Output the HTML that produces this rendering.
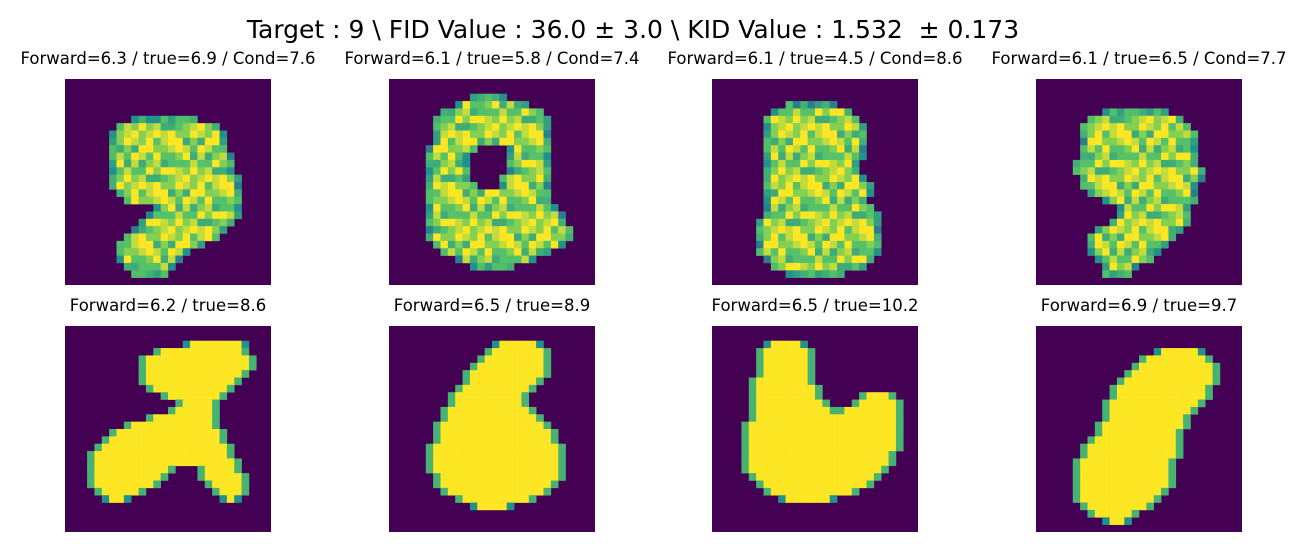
<!DOCTYPE html>
<html><head><meta charset="utf-8"><style>
body{margin:0;background:#fff;}
svg{display:block;font-family:"DejaVu Sans","Liberation Sans",sans-serif;}
</style></head><body>
<svg id="fig" width="1306" height="552" viewBox="0 0 1306 552" xmlns="http://www.w3.org/2000/svg">
<text x="633" y="38" font-size="25" text-anchor="middle" fill="#000" style="white-space:pre" xml:space="preserve">Target : 9 \ FID Value : 36.0 ± 3.0 \ KID Value : 1.532  ± 0.173</text>
<g id="panels"></g>
</svg>
<script>
const titles = [
 "Forward=6.3 / true=6.9 / Cond=7.6","Forward=6.1 / true=5.8 / Cond=7.4",
 "Forward=6.1 / true=4.5 / Cond=8.6","Forward=6.1 / true=6.5 / Cond=7.7",
 "Forward=6.2 / true=8.6","Forward=6.5 / true=8.9","Forward=6.5 / true=10.2","Forward=6.9 / true=9.7"];
const noisy = [true,true,true,true,false,false,false,false];
const texture = "9786958796987569789687958697986759789689758697968759786978596";
const img1 = {5:[[9,17]],6:[[7,20]],7:[[6,21]],8:[[6,21]],9:[[6,21]],10:[[6,22]],11:[[6,22]],12:[[6,22]],13:[[6,23]],14:[[6,23]],15:[[7,23]],16:[[8,23]],17:[[12,23]],18:[[11,23]],19:[[10,22]],20:[[9,21]],21:[[8,20]],22:[[7,18]],23:[[7,16]],24:[[7,15]],25:[[8,14]],26:[[9,13]]};
const img2 = {2:[[11,15]],3:[[9,18]],4:[[7,20]],5:[[6,21]],6:[[6,21]],7:[[6,21]],8:[[6,21]],9:[[5,11],[16,21]],10:[[5,10],[16,21]],11:[[5,10],[16,21]],12:[[5,10],[16,21]],13:[[5,10],[15,21]],14:[[5,11],[15,21]],15:[[5,21]],16:[[5,21]],17:[[5,22]],18:[[5,23]],19:[[5,23]],20:[[5,24]],21:[[5,24]],22:[[6,23]],23:[[7,21]],24:[[9,19]],25:[[11,16]]};
const img3 = {3:[[10,16]],4:[[8,18]],5:[[7,19]],6:[[7,20]],7:[[7,20]],8:[[7,20]],9:[[7,20]],10:[[7,20]],11:[[7,19]],12:[[7,19]],13:[[7,20]],14:[[7,21]],15:[[7,21]],16:[[7,20]],17:[[7,21]],18:[[7,22]],19:[[6,22]],20:[[6,22]],21:[[6,22]],22:[[6,22]],23:[[6,22]],24:[[7,21]],25:[[8,20]],26:[[10,17]]};
const img4 = {4:[[9,17]],5:[[7,19]],6:[[6,20]],7:[[6,21]],8:[[6,21]],9:[[6,21]],10:[[6,21]],11:[[5,21]],12:[[5,22]],13:[[6,22]],14:[[6,21]],15:[[7,21]],16:[[9,21]],17:[[11,20]],18:[[11,20]],19:[[10,20]],20:[[8,19]],21:[[7,18]],22:[[7,17]],23:[[7,16]],24:[[8,15]],25:[[9,13]],26:[[9,12]]};
const img5 = {2:[[16,24]],3:[[12,24]],4:[[10,25]],5:[[10,25]],6:[[10,24]],7:[[10,23]],8:[[11,22]],9:[[13,21]],10:[[15,20]],11:[[14,20]],12:[[11,20]],13:[[8,20]],14:[[6,21]],15:[[5,21]],16:[[4,22]],17:[[3,22]],18:[[3,23]],19:[[3,14],[18,23]],20:[[3,13],[18,24]],21:[[3,12],[19,24]],22:[[4,10],[20,24]],23:[[5,8],[21,23]]};
const img6 = {2:[[14,20]],3:[[13,21]],4:[[12,21]],5:[[11,21]],6:[[10,21]],7:[[10,20]],8:[[9,19]],9:[[8,18]],10:[[8,18]],11:[[7,19]],12:[[7,20]],13:[[6,21]],14:[[6,22]],15:[[6,22]],16:[[5,23]],17:[[5,23]],18:[[5,23]],19:[[5,23]],20:[[6,23]],21:[[6,22]],22:[[7,21]],23:[[9,19]],24:[[11,16]]};
const img7 = {2:[[7,12]],3:[[6,13]],4:[[6,13]],5:[[6,13]],6:[[6,13]],7:[[5,13]],8:[[5,14]],9:[[5,14],[20,24]],10:[[5,15],[19,25]],11:[[5,16],[17,25]],12:[[5,25]],13:[[4,25]],14:[[4,25]],15:[[4,25]],16:[[4,25]],17:[[4,24]],18:[[4,24]],19:[[4,23]],20:[[5,22]],21:[[6,21]],22:[[7,19]],23:[[9,16]]};
const img8 = {3:[[16,22]],4:[[14,23]],5:[[13,24]],6:[[12,24]],7:[[11,24]],8:[[10,23]],9:[[10,23]],10:[[9,22]],11:[[9,21]],12:[[9,20]],13:[[8,20]],14:[[8,19]],15:[[7,19]],16:[[6,19]],17:[[6,19]],18:[[5,18]],19:[[5,18]],20:[[5,18]],21:[[5,18]],22:[[5,17]],23:[[5,16]],24:[[6,15]],25:[[7,13]],26:[[9,12]]};
const images = [img1,img2,img3,img4,img5,img6,img7,img8];

const NS="http://www.w3.org/2000/svg";
const panelX=[65,389,712,1036], panelY=[79,326], S=206, N=28, cs=S/N;
function viridis(t){
  const st=[[0,[68,1,84]],[0.25,[59,82,139]],[0.5,[33,145,140]],[0.75,[94,201,98]],[1,[253,231,37]]];
  t=Math.max(0,Math.min(1,t));
  for(let i=1;i<st.length;i++){ if(t<=st[i][0]){const a=st[i-1],b=st[i];const f=(t-a[0])/(b[0]-a[0]);
    const c=a[1].map((v,k)=>Math.round(v+(b[1][k]-v)*f)); return `rgb(${c[0]},${c[1]},${c[2]})`;}}
  return "rgb(253,231,37)";
}
const g=document.getElementById('panels');
images.forEach((im,idx)=>{
  const x0=panelX[idx%4], y0=panelY[Math.floor(idx/4)];
  const grp=document.createElementNS(NS,'g');
  
  
  const t=document.createElementNS(NS,'text');
  
  
  t.setAttribute('x',x0+S/2); t.setAttribute('y',y0-15);
  t.setAttribute('font-size','16.5'); t.setAttribute('text-anchor','middle');
  t.textContent=titles[idx]; grp.appendChild(t);
  const bg=document.createElementNS(NS,'rect');
  
  
  bg.setAttribute('x',x0);bg.setAttribute('y',y0);bg.setAttribute('width',S);bg.setAttribute('height',S);bg.setAttribute('fill','#440154');
  grp.appendChild(bg);
  for(const r in im){
    im[r].forEach(([s,e])=>{
      for(let c=s;c<=e;c++){
        let v;
        const edge=(c===s||c===e);
        const rowEdge=!im[+r-1]||!im[+r+1];
        if(noisy[idx]){
          v=0.62+0.38*(+texture[(r*31+c*17+idx*7)%texture.length]-5)/4;
          if(edge||rowEdge) v=v*0.7;
        } else {
          v=1; if(edge) v=0.65; if(rowEdge&&edge) v=0.5;
        }
        const rc=document.createElementNS(NS,'rect');
        
        
        rc.setAttribute('x',(x0+c*cs).toFixed(2));rc.setAttribute('y',(y0+r*cs).toFixed(2));
        rc.setAttribute('width',(cs+0.3).toFixed(2));rc.setAttribute('height',(cs+0.3).toFixed(2));
        rc.setAttribute('fill',viridis(v));
        grp.appendChild(rc);
      }
    });
  }
  g.appendChild(grp);
});
</script>
</body></html>
